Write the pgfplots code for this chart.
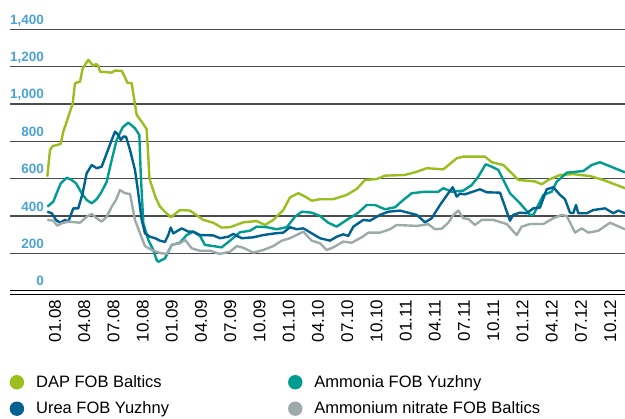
\documentclass[border=0pt]{standalone}
\usepackage{pgfplots}
\pgfplotsset{compat=1.18}
\usepackage{fontspec}
\setmainfont{Liberation Sans}
\definecolor{dap}{RGB}{154,190,30}
\definecolor{amm}{RGB}{0,155,145}
\definecolor{urea}{RGB}{0,98,145}
\definecolor{an}{RGB}{158,170,170}
\definecolor{ylab}{RGB}{74,163,211}
\begin{document}
\begin{tikzpicture}
\useasboundingbox (0,0) rectangle (625pt,419pt);
\clip (0,0) rectangle (625pt,419pt);
\begin{axis}[
  at={(10pt,128.3pt)}, anchor=south west,
  scale only axis, width=615pt, height=261.4pt,
  xmin=-4.62, xmax=58.52, ymin=0, ymax=1400,
  axis line style={draw=none}, major tick length=0pt,
  ytick={0,200,...,1400},
  yticklabels={0,200,400,600,800,{1,000},{1,200},{1,400}},
  yticklabel style={font=\fontsize{13.5}{14}\selectfont\bfseries, text=ylab, anchor=base east, inner sep=0pt, xshift=34pt, yshift=5pt},
  xtick={0,3,...,57},
  xticklabels={01.08,04.08,07.08,10.08,01.09,04.09,07.09,10.09,01.10,04.10,07.10,10.10,01.11,04.11,07.11,10.11,01.12,04.12,07.12,10.12},
  xticklabel style={font=\fontsize{17}{18}\selectfont, rotate=90, anchor=east, inner ysep=0pt, inner xsep=9pt},
  ymajorgrids, grid style={black!70, line width=1.1pt},
  clip mode=individual,
  every axis plot/.append style={line width=2.4pt, line join=round},
  legend columns=2,
  legend cell align=left,
  legend image code/.code={\fill[#1] (0pt,0pt) circle (6pt); \path (16pt,0pt);},
  legend style={draw=none, fill=none, at={(-0.0008,-0.316)}, anchor=north west,
    font=\fontsize{16.5}{18}\selectfont, inner sep=0pt, row sep=9pt,
    /tikz/every even column/.append style={column sep=117pt}},
]
\addplot[color=dap] coordinates {
(-0.79,611) (-0.51,754) (-0.24,775) (0.17,780) (0.59,786) (0.85,852) (1.37,932) (1.82,1004)
(2.05,1111) (2.57,1120) (2.84,1191) (3.42,1236) (3.93,1204) (4.21,1214) (4.45,1204) (4.62,1173)
(5.82,1168) (6.16,1179) (6.85,1177) (7.19,1143) (7.42,1114) (7.87,1111) (8.39,941) (8.90,905)
(9.41,865) (9.52,771) (9.70,600) (10.32,500) (10.78,450) (11.29,423) (11.88,393) (12.83,432)
(13.86,429) (15.23,379) (16.25,364) (17.11,338) (17.97,340) (19.33,366) (20.71,373) (21.56,352)
(22.41,379) (23.44,432) (24.13,500) (24.98,522) (25.67,504) (26.36,482) (27.21,490) (28.57,490)
(29.95,513) (30.98,545) (31.83,593) (33.03,598) (33.88,616) (35.93,620) (37.14,637) (38.16,656)
(39.87,650) (41.24,709) (41.92,718) (44.15,718) (44.84,688) (46.03,673) (46.89,629) (47.57,593)
(48.43,589) (49.28,585) (49.97,570) (50.65,593) (51.85,620) (53.21,624) (54.93,614) (56.29,593)
(58.52,549)
};
\addlegendentry{DAP FOB Baltics}
\addplot[color=amm] coordinates {
(-0.79,450) (-0.17,477) (0.17,522) (0.59,575) (1.20,605) (1.71,593) (2.16,575) (2.74,522)
(3.25,486) (3.77,468) (4.28,490) (4.79,530) (5.31,584) (5.82,700) (6.33,807) (6.95,875)
(7.53,900) (8.21,870) (8.66,834) (8.80,629) (9.07,361) (9.58,272) (10.09,218) (10.44,164)
(10.61,155) (11.29,173) (11.98,245) (12.83,257) (13.52,298) (14.20,316) (14.89,293) (15.40,245)
(16.25,239) (17.11,232) (17.97,268) (18.99,313) (20.02,321) (20.71,343) (21.74,340) (22.76,329)
(23.79,340) (24.64,396) (25.33,423) (26.36,418) (27.21,400) (28.06,364) (28.92,343) (29.95,379)
(31.14,418) (32.00,459) (32.85,459) (33.88,436) (34.91,447) (35.76,486) (36.62,522) (37.81,529)
(39.35,530) (39.87,549) (40.73,530) (41.92,536) (42.78,566) (43.46,611) (44.22,677) (44.84,664)
(45.51,647) (46.03,593) (46.71,522) (47.74,468) (48.77,406) (49.11,406) (49.62,459) (50.13,513)
(51.00,530) (51.51,584) (52.54,632) (54.24,641) (55.10,673) (55.95,688) (57.32,659) (58.52,634)
};
\addlegendentry{Ammonia FOB Yuzhny}
\addplot[color=urea] coordinates {
(-0.79,423) (-0.34,415) (0.10,379) (0.51,364) (1.03,379) (1.37,370) (1.88,441) (2.39,441)
(2.84,522) (3.25,629) (3.77,673) (4.28,656) (4.79,664) (5.31,736) (5.82,807) (6.16,852)
(6.50,834) (6.75,807) (7.01,825) (7.29,825) (7.70,754) (8.21,647) (8.55,522) (8.90,379)
(9.24,307) (9.75,289) (10.27,281) (10.78,268) (11.29,261) (11.63,298) (11.88,338) (12.15,307)
(13.01,334) (13.69,316) (14.20,316) (14.89,298) (16.25,296) (16.94,281) (17.79,289) (18.31,304)
(19.17,281) (20.36,286) (21.39,298) (22.59,307) (23.44,311) (24.13,340) (24.82,329) (25.49,334)
(26.36,307) (27.21,281) (28.23,268) (28.92,289) (29.60,302) (30.11,293) (30.63,343) (31.65,379)
(32.34,375) (33.37,406) (34.22,423) (35.42,429) (36.45,415) (37.14,406) (37.99,366) (38.67,388)
(39.53,459) (40.38,522) (40.83,554) (41.24,504) (41.58,520) (42.09,516) (43.63,543) (44.32,527)
(45.69,525) (46.20,450) (46.71,375) (47.05,406) (47.74,418) (48.43,415) (49.11,441) (49.79,445)
(50.48,543) (51.16,554) (51.85,513) (52.36,490) (52.87,418) (53.21,415) (53.49,459) (53.72,415)
(54.59,415) (55.27,432) (56.47,441) (57.32,415) (57.83,429) (58.52,415)
};
\addlegendentry{Urea FOB Yuzhny}
\addplot[color=an] coordinates {
(-0.79,379) (-0.17,375) (0.24,348) (0.69,361) (1.37,370) (2.57,364) (3.25,396) (3.77,411)
(4.28,388) (4.79,370) (5.31,396) (5.82,450) (6.26,486) (6.67,539) (7.19,522) (7.70,518)
(8.21,379) (8.73,307) (9.24,239) (9.93,218) (10.78,202) (11.47,197) (11.98,245) (12.83,254)
(13.35,272) (14.03,227) (14.89,214) (15.91,214) (16.94,197) (17.97,209) (18.66,239) (19.33,230)
(20.36,204) (21.39,218) (22.41,239) (23.28,268) (24.13,281) (25.49,316) (26.36,268) (27.21,254)
(27.89,218) (28.57,232) (29.60,263) (30.46,257) (31.49,286) (32.17,311) (33.37,311) (34.39,329)
(35.08,352) (37.14,347) (38.33,356) (39.01,329) (39.70,332) (40.38,364) (40.90,406) (41.41,429)
(41.92,388) (42.43,384) (43.12,352) (43.81,379) (45.00,379) (46.37,357) (47.40,298) (47.91,343)
(48.77,357) (50.13,357) (51.16,388) (52.02,406) (52.54,400) (53.39,311) (54.07,334) (54.76,311)
(55.78,321) (56.98,364) (58.52,329)
};
\addlegendentry{Ammonium nitrate FOB Baltics}
\draw[black, line width=1.3pt] (rel axis cs:0,0) -- (rel axis cs:1,0);
\draw[black, line width=1.3pt] ([yshift=-3.6pt]rel axis cs:0,0) -- ([yshift=-3.6pt]rel axis cs:1,0);
\end{axis}
\end{tikzpicture}
\end{document}
